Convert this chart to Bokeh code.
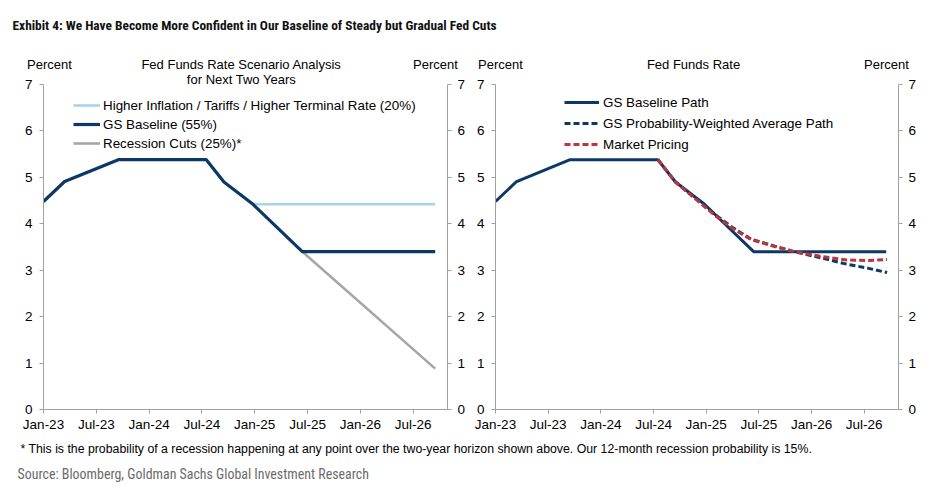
from bokeh.plotting import figure
from bokeh.models import Range1d, LinearAxis, FixedTicker, Legend, LegendItem, Label
from bokeh.layouts import column, row
from bokeh.embed import file_html
from bokeh.resources import INLINE

# ---------------- data (x = months since Jan-2023) ----------------
tick_months = [0, 6, 12, 18, 24, 30, 36, 42]
tick_labels = ["Jan-23", "Jul-23", "Jan-24", "Jul-24", "Jan-25", "Jul-25", "Jan-26", "Jul-26"]
y_ticks = [0, 1, 2, 3, 4, 5, 6, 7]

base_months = [0, 2.4, 8.5, 18.5, 20.5, 23.8, 29.4, 44.5]
gs_baseline = [4.48, 4.91, 5.38, 5.38, 4.90, 4.42, 3.40, 3.40]

higher_months = [23.8, 44.5]
higher_infl = [4.42, 4.42]

recess_months = [29.4, 44.5]
recession = [3.40, 0.88]

path_months = [18.5, 20.5, 25.0, 27.0, 29.1, 31.8, 34.0, 37.0, 40.0, 42.5, 44.6]
prob_weighted = [5.38, 4.90, 4.20, 3.92, 3.67, 3.52, 3.40, 3.27, 3.13, 3.04, 2.95]
market_pricing = [5.38, 4.90, 4.18, 3.90, 3.66, 3.51, 3.40, 3.30, 3.22, 3.21, 3.23]

NAVY = "#0d3865"
LIGHT = "#a9d1f0"
GREY = "#a6a6a6"
RED = "#c0353b"
AXIS = "#a0a0a0"
FONT = "Liberation Sans"
COND = "Roboto Condensed, DejaVu Sans Condensed, sans-serif"

HEAD_H = 72
Y_TOP = 7 + 12 / 46.43  # frame starts 12 px above the 7 line


def panel(bl, br):
    p = figure(width=473, height=435 - HEAD_H, x_range=Range1d(0, 45.9), y_range=Range1d(0, Y_TOP),
               output_backend="svg", toolbar_location=None,
               min_border_left=bl, min_border_right=br, min_border_top=0, min_border_bottom=26)
    p.grid.visible = False
    p.outline_line_color = None
    p.add_layout(LinearAxis(), "right")
    for ax in p.yaxis:
        ax.ticker = FixedTicker(ticks=y_ticks)
        ax.bounds = (0, 7)
    p.yaxis[0].major_label_standoff = 7
    p.yaxis[1].major_label_standoff = 6
    p.xaxis.ticker = FixedTicker(ticks=tick_months)
    p.xaxis.major_label_overrides = {m: l for m, l in zip(tick_months, tick_labels)}
    p.xaxis.major_label_standoff = 3
    for ax in p.axis:
        ax.axis_line_color = AXIS
        ax.major_tick_line_color = AXIS
        ax.major_tick_out = 4
        ax.major_tick_in = 0
        ax.minor_tick_line_color = None
        ax.major_label_text_font = FONT
        ax.major_label_text_font_size = "13.5px"
        ax.major_label_text_color = "black"
    return p


# ---------------- left panel ----------------
left = panel(43, 26)
left.add_layout(Label(x=22.5, y=7.108, text="for Next Two Years", text_align="center", text_baseline="middle",
                      text_font=FONT, text_font_size="13px", text_color="black"))
r_hi = left.line(higher_months, higher_infl, line_color=LIGHT, line_width=2.6)
r_rc = left.line(recess_months, recession, line_color=GREY, line_width=2.6)
r_bl = left.line(base_months, gs_baseline, line_color=NAVY, line_width=3.2)
leg1 = Legend(items=[LegendItem(label="Higher Inflation / Tariffs / Higher Terminal Rate (20%)", renderers=[r_hi]),
                     LegendItem(label="GS Baseline (55%)", renderers=[r_bl]),
                     LegendItem(label="Recession Cuts (25%)*", renderers=[r_rc])],
              location=(30, 258), glyph_width=27, glyph_height=16, label_height=16,
              label_standoff=3, spacing=3, padding=0, margin=0,
              border_line_color=None, background_fill_alpha=0,
              label_text_font=FONT, label_text_font_size="13.4px", label_text_color="black")
left.add_layout(leg1)

# ---------------- right panel ----------------
right = panel(20, 48)
r2_bl = right.line(base_months, gs_baseline, line_color=NAVY, line_width=3.0)
r2_pw = right.line(path_months, prob_weighted, line_color=NAVY, line_width=3.0, line_dash="6 3")
r2_mp = right.line(path_months, market_pricing, line_color=RED, line_width=3.0, line_dash="6 3")
leg2 = Legend(items=[LegendItem(label="GS Baseline Path", renderers=[r2_bl]),
                     LegendItem(label="GS Probability-Weighted Average Path", renderers=[r2_pw]),
                     LegendItem(label="Market Pricing", renderers=[r2_mp])],
              location=(69, 257), glyph_width=35, glyph_height=16, label_height=16,
              label_standoff=4, spacing=5, padding=0, margin=0,
              border_line_color=None, background_fill_alpha=0,
              label_text_font=FONT, label_text_font_size="13.4px", label_text_color="black")
right.add_layout(leg2)

# ---------------- header and footer ----------------
def strip(h):
    f = figure(width=946, height=h, x_range=Range1d(0, 946), y_range=Range1d(0, h),
               output_backend="svg", toolbar_location=None,
               x_axis_location=None, y_axis_location=None,
               min_border=0, min_border_left=0, min_border_right=0, min_border_top=0, min_border_bottom=0)
    f.grid.visible = False
    f.outline_line_color = None
    return f

top = strip(HEAD_H)
top.add_layout(Label(x=12, y=HEAD_H - 25, text="Exhibit 4: We Have Become More Confident in Our Baseline of Steady but Gradual Fed Cuts",
                     text_font=COND, text_font_style="bold", text_font_size="13.4px", text_color="#111111",
                     text_baseline="alphabetic"))
head_texts = [("Percent", 49, 64), ("Fed Funds Rate Scenario Analysis", 241, 64), ("Percent", 435, 64),
              ("Percent", 500, 64), ("Fed Funds Rate", 693, 64), ("Percent", 886, 64)]
for txt, x, y in head_texts:
    top.add_layout(Label(x=x, y=HEAD_H - y, text=txt, text_align="center", text_baseline="middle",
                         text_font=FONT, text_font_size="13px", text_color="black"))

bottom = strip(51)
bottom.add_layout(Label(x=20, y=38, text="* This is the probability of a recession happening at any point over the two-year horizon shown above.  Our 12-month recession probability is 15%.",
                        text_font=FONT, text_font_size="12.3px", text_color="black", text_baseline="middle"))
bottom.add_layout(Label(x=17, y=13, text="Source: Bloomberg, Goldman Sachs Global Investment Research",
                        text_font=COND, text_font_size="13.9px", text_color="#6b6b6b", text_baseline="middle"))

layout = column(top, row(left, right, spacing=0), bottom, spacing=0)
open("out.html", "w").write(file_html(layout, INLINE))
